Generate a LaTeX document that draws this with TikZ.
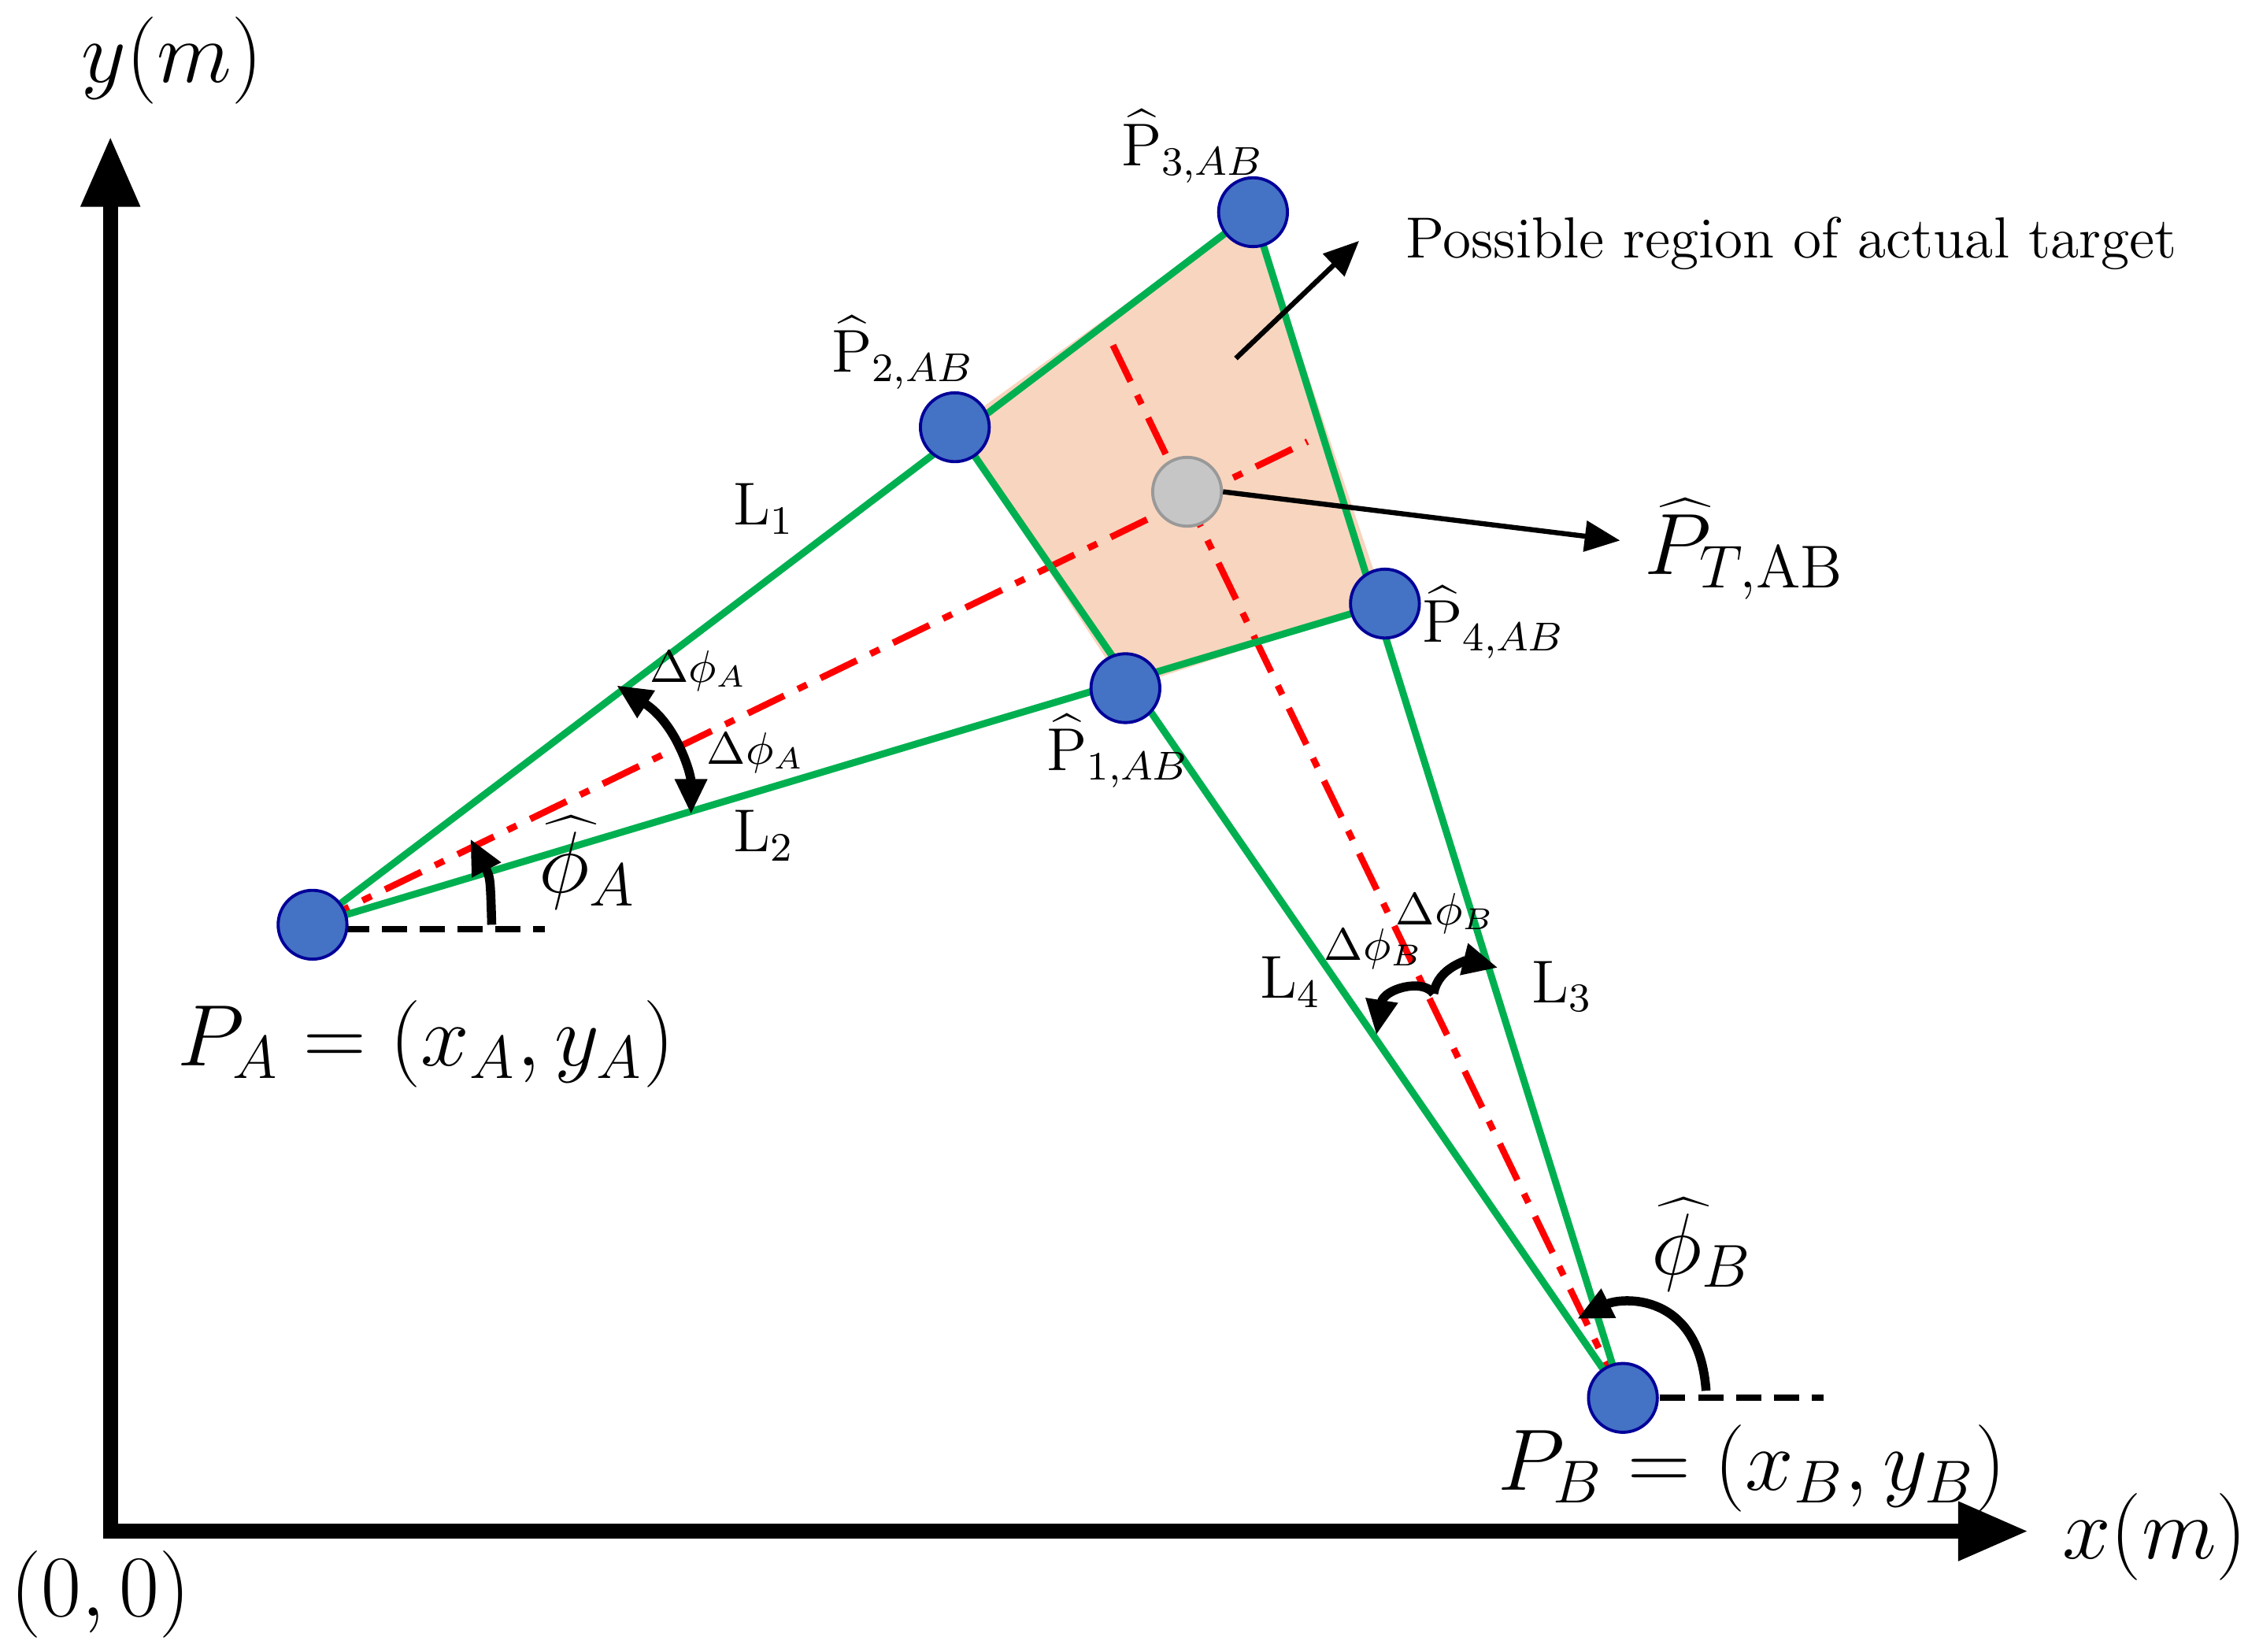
\documentclass[tikz,border=0pt]{standalone}
\usetikzlibrary{arrows.meta}
\begin{document}
\begin{tikzpicture}[x=0.01cm,y=-0.01cm,
  pt/.style={circle,draw=blue!60!black,line width=0.6pt,minimum size=0.48cm,inner sep=0},
  gl/.style={line width=1.4pt,color={rgb,255:red,0;green,176;blue,80}},
  rl/.style={red,line width=1.3pt,dash pattern=on 8pt off 3pt on 2pt off 3pt},
  ax/.style={line width=3pt,-{Triangle[length=14pt,width=11pt]}},
  big/.style={font=\fontsize{16.5}{19}\selectfont},
  mid/.style={font=\fontsize{11.5}{14}\selectfont},
  sm/.style={font=\fontsize{9}{11}\selectfont},
  arr/.style={line width=1pt,-{Triangle[length=7pt,width=6pt]}},
  carr/.style={line width=1.8pt,-{Triangle[length=7pt,width=6pt]}}]
\definecolor{ptblue}{RGB}{68,114,196}
\definecolor{peach}{RGB}{248,213,190}
\useasboundingbox (0,0) rectangle (1568,1152);
\coordinate (A) at (218,645);
\coordinate (B) at (1132,975);
\coordinate (p1) at (785,480);
\coordinate (p2) at (666,298);
\coordinate (p3) at (874,148);
\coordinate (p4) at (966,421);
\coordinate (pt) at (828,343);
\coordinate (O) at (77,1068);
\coordinate (ytop) at (77,95);
\coordinate (xend) at (1415,1068);
% axes
\draw[ax] (O) -- (ytop);
\draw[ax] ([xshift=-1.5pt]O) -- (xend);
% region
\fill[peach] (p1) -- (p2) -- (p3) -- (p4) -- cycle;
% red dash-dot
\coordinate (ra) at (912,308);
\coordinate (rb) at (773,234);
\draw[rl] (A) -- (ra);
\draw[rl] (B) -- (rb);
% green
\draw[gl] (A) -- (p3);
\draw[gl] (A) -- (p4);
\draw[gl] (B) -- (p3);
\draw[gl] (B) -- (p2);
% dashed horizontals
\coordinate (ha1) at (240,648); \coordinate (ha2) at (380,648);
\coordinate (hb1) at (1158,975); \coordinate (hb2) at (1272,975);
\draw[line width=1.3pt,dash pattern=on 5pt off 2.5pt] (ha1) -- (ha2);
\draw[line width=1.3pt,dash pattern=on 5pt off 2.5pt] (hb1) -- (hb2);
% points
\node[pt,fill=ptblue] (PA) at (A) {};
\node[pt,fill=ptblue] (PB) at (B) {};
\node[pt,fill=ptblue] (P1) at (p1) {};
\node[pt,fill=ptblue] (P2) at (p2) {};
\node[pt,fill=ptblue] (P3) at (p3) {};
\node[pt,fill=ptblue] (P4) at (p4) {};
\node[pt,fill=gray!45,draw=gray!80] (PT) at (pt) {};
% angle arcs
\coordinate (fa1) at (343,645); \coordinate (fa2) at (328,585);
\draw[carr] (fa1) .. controls (342,612) .. (fa2);
\coordinate (fb1) at (1190,970); \coordinate (fb2) at (1100,920);
\draw[carr] (fb1) .. controls (1185,900) and (1130,905) .. (fb2);
\coordinate (da1) at (430,478); \coordinate (da2) at (482,568);
\draw[carr,{Triangle[length=7pt,width=6pt]}-{Triangle[length=7pt,width=6pt]}] (da1) .. controls (472,505) and (482,540) .. (da2);
\coordinate (dm) at (1000,693);
\coordinate (db1) at (960,722); \coordinate (db2) at (1045,675);
\draw[carr] (dm) .. controls (992,682) and (965,690) .. (db1);
\draw[carr] (dm) .. controls (1003,674) and (1025,670) .. (db2);
% labels
\node[big] (ylab) at (120,42) {$y(m)$};
\node[big] (xlab) at (1503,1072) {$x(m)$};
\node[big] (olab) at (70,1112) {$(0,0)$};
\node[big] (lPA) at (297,728) {$P_A=(x_A,y_A)$};
\node[big] (lPB) at (1222,1024) {$P_B=(x_B,y_B)$};
\node[big] (lfa) at (410,602) {$\widehat{\phi}_A$};
\node[big] (lfb) at (1187,868) {$\widehat{\phi}_B$};
\node[big] (lPT) at (1217,383) {$\widehat{P}_{T,\mathrm{AB}}$};
\draw[arr] (PT.east) -- (1130,377);
\node[mid,anchor=west] (poss) at (968,170) {Possible region of actual target};
\coordinate (pa1) at (862,250); \coordinate (pa2) at (948,168);
\draw[arr] (pa1) -- (pa2);
\node[mid] (l3) at (832,102) {$\widehat{\mathrm{P}}_{3,AB}$};
\node[mid] (l2) at (630,246) {$\widehat{\mathrm{P}}_{2,AB}$};
\node[mid] (l4) at (1042,434) {$\widehat{\mathrm{P}}_{4,AB}$};
\node[mid] (l1) at (780,524) {$\widehat{\mathrm{P}}_{1,AB}$};
\node[mid] (L1) at (533,355) {$\mathrm{L}_1$};
\node[mid] (L2) at (533,583) {$\mathrm{L}_2$};
\node[mid] (L3) at (1090,688) {$\mathrm{L}_3$};
\node[mid] (L4) at (900,685) {$\mathrm{L}_4$};
\node[sm] (da) at (487,468) {$\Delta\phi_A$};
\node[sm] (db) at (527,525) {$\Delta\phi_A$};
\node[sm] (dc) at (1008,637) {$\Delta\phi_B$};
\node[sm] (dd) at (958,662) {$\Delta\phi_B$};
\end{tikzpicture}
\end{document}
